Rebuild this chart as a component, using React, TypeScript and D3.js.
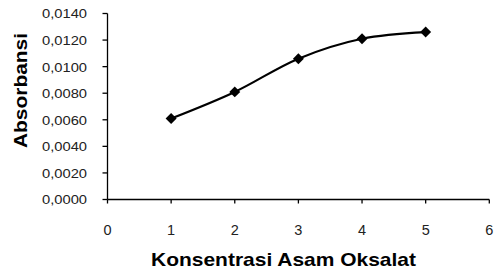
import React from 'react'
import * as d3 from 'd3'

const konsentrasi = [1, 2, 3, 4, 5]
const absorbansi = [0.0061, 0.0081, 0.0106, 0.0121, 0.0126]
const xTicks = [0, 1, 2, 3, 4, 5, 6]
const yTicks = [0, 0.002, 0.004, 0.006, 0.008, 0.01, 0.012, 0.014]
const xTitle = 'Konsentrasi Asam Oksalat'
const yTitle = 'Absorbansi'

const width = 497
const height = 273
const margin = { left: 107.5, right: 7.7, top: 13.5, bottom: 73.5 }
const font = 'Arial, "Liberation Sans", sans-serif'

function App() {
  const x = d3.scaleLinear().domain([0, 6]).range([margin.left, width - margin.right])
  const y = d3.scaleLinear().domain([0, 0.014]).range([height - margin.bottom, margin.top])

  const points = konsentrasi.map((k, i) => [k, absorbansi[i]] as [number, number])
  const line = d3.line<[number, number]>()
    .x(d => x(d[0]))
    .y(d => y(d[1]))
    .curve(d3.curveCatmullRom.alpha(0.5))
  const diamond = d3.symbol(d3.symbolSquare, 60)()

  const fmt = (v: number) => v.toFixed(4).replace('.', ',')
  const x0 = margin.left
  const y0 = height - margin.bottom

  return (
    <svg width={width} height={height} style={{ position: 'absolute', left: 0, top: 0 }}>
      <rect width={width} height={height} fill="#fff" />
      {/* y axis */}
      <line x1={x0} x2={x0} y1={y(0.014)} y2={y0} stroke="#000" strokeWidth={1.3} />
      {yTicks.map(t => (
        <g key={t}>
          <line x1={x0 - 5} x2={x0} y1={y(t)} y2={y(t)} stroke="#000" strokeWidth={1.3} />
          <text x={87} y={y(t)} dy="0.36em" textAnchor="end" fontFamily={font} fontSize={13.5}
            textLength={45} lengthAdjust="spacingAndGlyphs" fill="#222">{fmt(t)}</text>
        </g>
      ))}
      {/* x axis */}
      <line x1={x0} x2={x(6)} y1={y0} y2={y0} stroke="#000" strokeWidth={1.3} />
      {xTicks.map(t => (
        <g key={t}>
          <line x1={x(t)} x2={x(t)} y1={y0} y2={y0 + 4} stroke="#000" strokeWidth={1.3} />
          <text x={x(t)} y={234.5} textAnchor="middle" fontFamily={font} fontSize={14.5} fill="#222">{t}</text>
        </g>
      ))}
      <path d={line(points) ?? ''} fill="none" stroke="#000" strokeWidth={2.2} />
      {points.map(p => (
        <path key={p[0]} d={diamond ?? ''} transform={`translate(${x(p[0])},${y(p[1])}) rotate(45)`} fill="#000" />
      ))}
      <text x={283.5} y={266} textAnchor="middle" fontFamily={font} fontWeight="bold" fontSize={19}
        textLength={265} lengthAdjust="spacingAndGlyphs" fill="#000">{xTitle}</text>
      <text transform={`translate(26.5,90.5) rotate(-90)`} textAnchor="middle" fontFamily={font} fontWeight="bold"
        fontSize={19} textLength={115} lengthAdjust="spacingAndGlyphs" fill="#000">{yTitle}</text>
    </svg>
  )
}

export default App
